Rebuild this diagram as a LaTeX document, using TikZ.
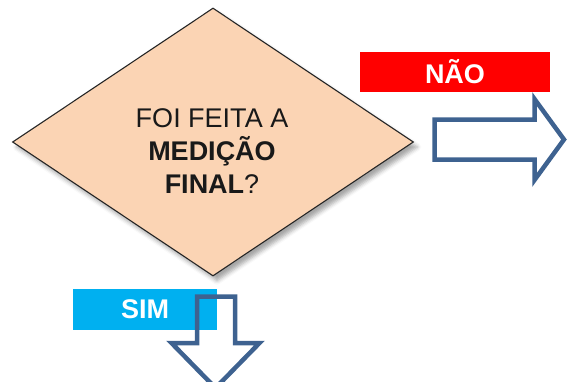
\documentclass[tikz,border=0pt]{standalone}
\usepackage{fontspec}
\setmainfont{Liberation Sans}
\usetikzlibrary{shapes.geometric,shadows.blur}
\definecolor{peach}{HTML}{FBD4B4}
\definecolor{naored}{HTML}{FF0000}
\definecolor{simcyan}{HTML}{00B0F0}
\definecolor{arrowblue}{HTML}{3E6290}
\tikzset{
  decision/.style={diamond, draw=black!85, line width=1.1pt, fill=peach, inner sep=0pt,
    minimum width=401pt, minimum height=268pt,
    blur shadow={shadow xshift=4pt, shadow yshift=-5pt, shadow blur radius=4pt, shadow opacity=35}},
  qtext/.style={align=center, font=\fontsize{27}{33}\selectfont, text=black!90},
  labelbox/.style={inner sep=0pt, text=white, font=\fontsize{27}{30}\selectfont\bfseries},
  blockarrow/.style={draw=arrowblue, line width=4.5pt, line join=miter}
}
\begin{document}
\begin{tikzpicture}[x=1pt,y=-1pt]
\useasboundingbox (0,0) rectangle (568,381);
\node[decision] (q) at (213,142) {};
\node[qtext] (qt) at (212,151) {FOI FEITA A\\\textbf{MEDIÇÃO}\\\textbf{FINAL}?};
\node[labelbox, fill=naored, minimum width=190pt, minimum height=40pt] (nao) at (455,72) {NÃO};
\node[labelbox, fill=simcyan, minimum width=144pt, minimum height=41pt] (sim) at (145,309.5) {SIM};
% right block arrow
\draw[blockarrow] (434.5,119.5) -- (534.5,119.5) -- (534.5,99) -- (564,139.5) -- (534.5,180) -- (534.5,159.5) -- (434.5,159.5) -- cycle;
% down block arrow
\draw[blockarrow] (197,296.5) -- (235,296.5) -- (235,343) -- (259.5,343) -- (215.5,388) -- (171.5,343) -- (197,343) -- cycle;
\end{tikzpicture}
\end{document}
